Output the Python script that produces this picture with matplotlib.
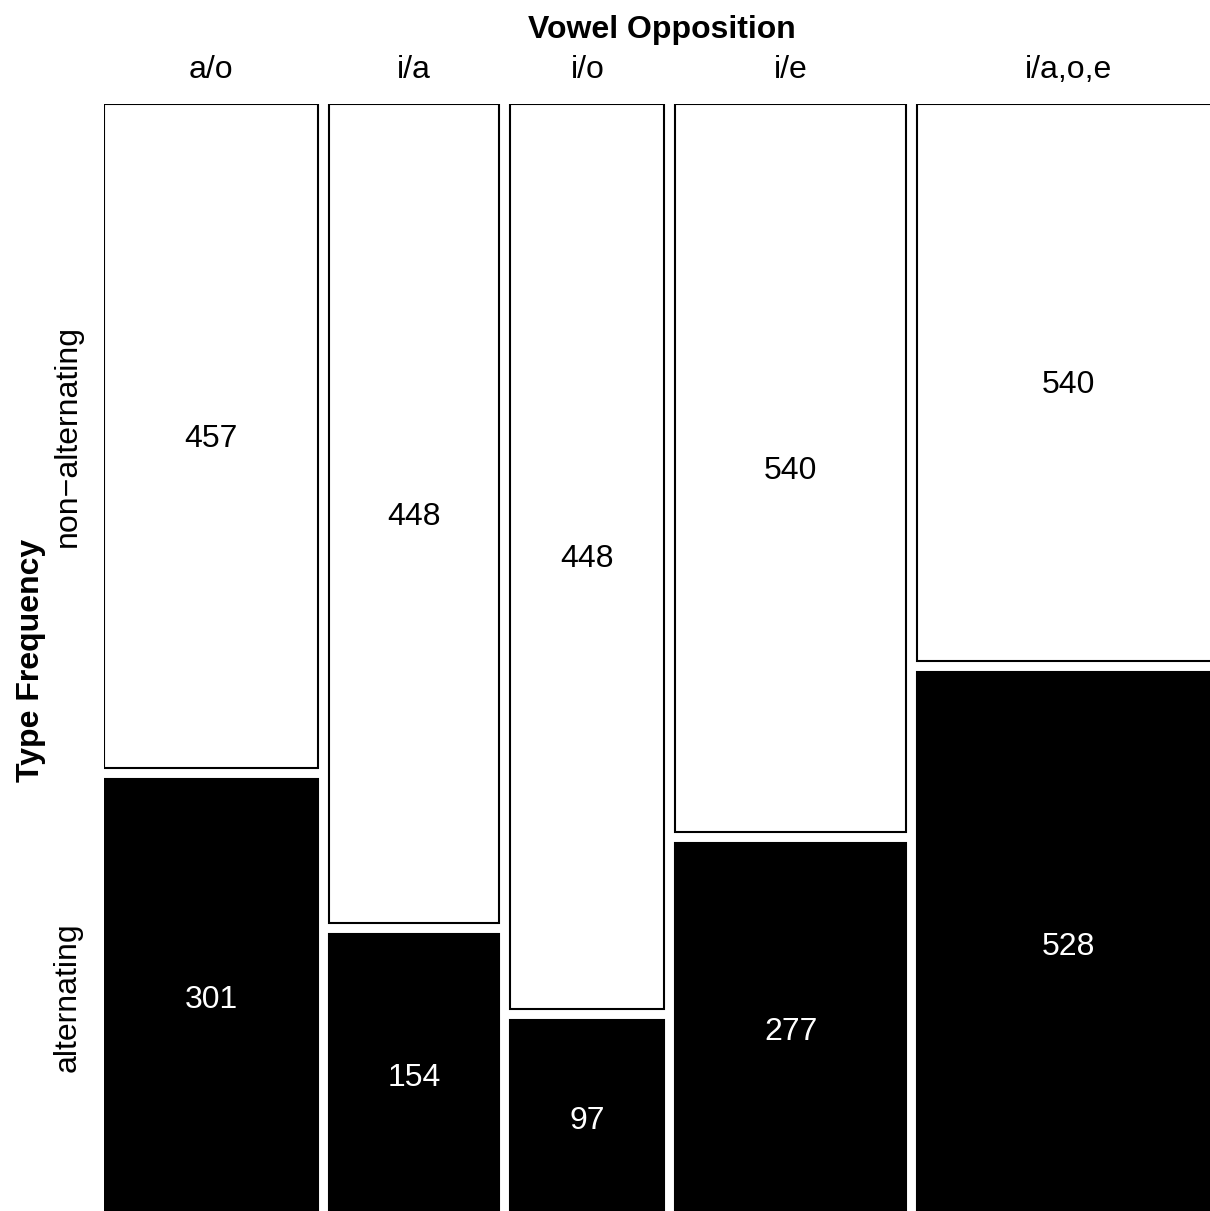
import matplotlib.pyplot as plt
from matplotlib.patches import Rectangle

plt.rcParams['font.family'] = ['Liberation Sans', 'DejaVu Sans']

# counts per vowel opposition
vowels = ["a/o", "i/a", "i/o", "i/e", "i/a,o,e"]
non_alternating = [457, 448, 448, 540, 540]
alternating = [301, 154, 97, 277, 528]
row_labels = ["non\u2212alternating", "alternating"]


def main():
    W, H = 1210, 1211
    fs = 23
    fig = plt.figure(figsize=(W / 100, H / 100), dpi=100)
    # plot region (runs a little past the right and bottom edges)
    left, top, aw, ah = 104, 104, 1115, 1112
    ax = fig.add_axes([left / W, 1 - (top + ah) / H, aw / W, ah / H])
    ax.set_xlim(0, 1)
    ax.set_ylim(1, 0)
    ax.axis('off')

    gap = 0.01
    dy = 3 / ah  # nudge text down a few pixels
    totals = [a + b for a, b in zip(non_alternating, alternating)]
    grand = sum(totals)
    avail_x = 1 - gap * (len(vowels) - 1)
    avail_y = 1 - gap

    x0 = 0
    centers = []
    row_centers = None
    for i, v in enumerate(vowels):
        w = totals[i] / grand * avail_x
        h1 = non_alternating[i] / totals[i] * avail_y
        h2 = alternating[i] / totals[i] * avail_y
        ax.add_patch(Rectangle((x0, 0), w, h1, facecolor='white',
                               edgecolor='black', lw=1.5))
        ax.add_patch(Rectangle((x0, h1 + gap), w, h2, facecolor='black',
                               edgecolor='black', lw=1.5))
        cx = x0 + w / 2
        ax.text(cx, h1 / 2 + dy, str(non_alternating[i]), ha='center',
                va='center', fontsize=fs, color='black')
        ax.text(cx, h1 + gap + h2 / 2 + dy, str(alternating[i]), ha='center',
                va='center', fontsize=fs, color='white')
        if row_centers is None:
            row_centers = [h1 / 2, h1 + gap + h2 / 2]
        centers.append(cx)
        x0 += w + gap

    # column labels
    for cx, v in zip(centers, vowels):
        fx = (left + cx * aw) / W
        fig.text(fx, 1 - 70 / H, v, ha='center', va='center', fontsize=fs)
    fig.text((left + 0.5 * avail_x * aw + 2 * gap * aw) / W, 1 - 30 / H,
             "Vowel Opposition", ha='center', va='center', fontsize=fs,
             fontweight='bold')

    # row labels
    for rc, lab in zip(row_centers, row_labels):
        fy = 1 - (top + rc * ah) / H
        fig.text(68 / W, fy, lab, ha='center', va='center', rotation=90,
                 fontsize=fs)
    fig.text(31 / W, 1 - (top + 0.5 * ah) / H, "Type Frequency", ha='center',
             va='center', rotation=90, fontsize=fs, fontweight='bold')

    fig.savefig("out.png", dpi=100)


if __name__ == '__main__':
    main()
